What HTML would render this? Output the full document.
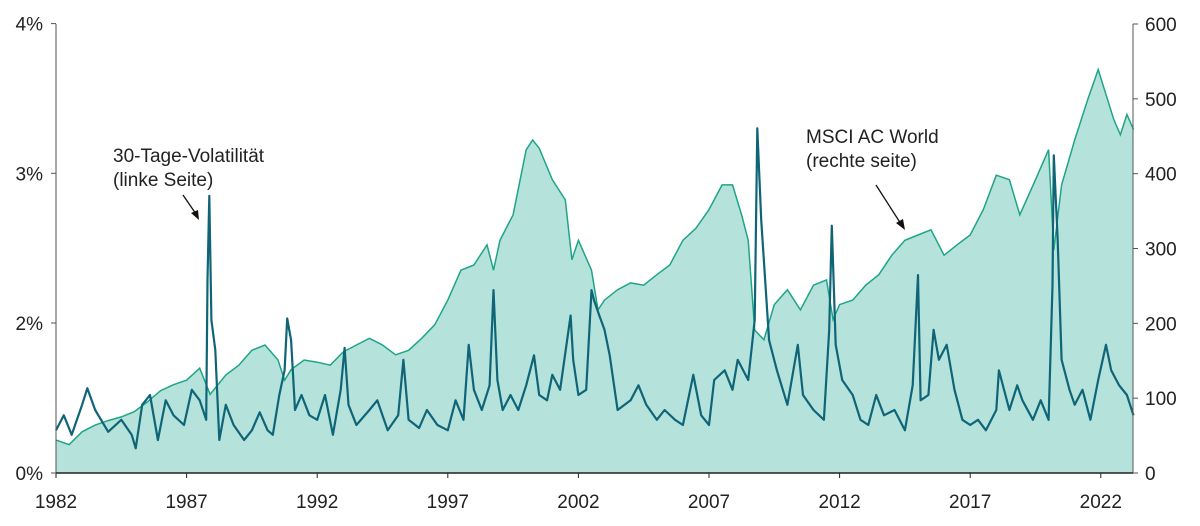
<!DOCTYPE html>
<html><head><meta charset="utf-8"><style>
body{margin:0;background:#fff;width:1200px;height:521px;overflow:hidden}
svg text{font-family:"Liberation Sans",sans-serif;fill:#222}
</style></head><body>
<svg id="chart" width="1200" height="521" viewBox="0 0 1200 521" xmlns="http://www.w3.org/2000/svg">
<g id="area"></g>
<g id="vol"></g>
<g id="axes"></g>
<g>
<text x="113" y="162" font-size="19">30-Tage-Volatilität</text>
<text x="113" y="186" font-size="19">(linke Seite)</text>
<line x1="183" y1="195" x2="196" y2="214" stroke="#111" stroke-width="1.3"/>
<polygon points="199,220 191,213 198,210" fill="#111"/>
</g>
<g>
<text x="806" y="143" font-size="19">MSCI AC World</text>
<text x="806" y="167" font-size="19">(rechte seite)</text>
<line x1="876" y1="185" x2="901" y2="224" stroke="#111" stroke-width="1.3"/>
<polygon points="905,230 896,223 903,219" fill="#111"/>
</g>
</svg>
<script>
const msciYears=[1982,1982.5,1983,1983.5,1984,1984.5,1985,1985.5,1986,1986.5,1987,1987.5,1987.9,1988.5,1989,1989.5,1990,1990.5,1990.75,1991,1991.5,1992,1992.5,1993,1993.5,1994,1994.5,1995,1995.5,1996,1996.5,1997,1997.5,1998,1998.5,1998.75,1999,1999.5,2000,2000.25,2000.5,2001,2001.5,2001.75,2002,2002.5,2002.75,2003,2003.5,2004,2004.5,2005,2005.5,2006,2006.5,2007,2007.5,2007.9,2008.25,2008.5,2008.75,2009.1,2009.5,2010,2010.5,2011,2011.5,2011.75,2012,2012.5,2013,2013.5,2014,2014.5,2015,2015.5,2016,2016.5,2017,2017.5,2018,2018.5,2018.9,2019.5,2020,2020.2,2020.5,2021,2021.5,2021.9,2022.5,2022.75,2023,2023.25];
const msciValues=[44,38,55,64,70,75,82,95,110,118,124,140,105,131,144,164,171,151,124,138,151,148,144,162,171,180,171,158,164,180,198,231,271,278,305,271,311,345,432,445,434,392,365,285,311,271,218,231,245,254,251,265,278,311,327,352,385,385,345,311,191,178,225,245,218,251,258,205,225,231,251,265,291,311,318,325,291,305,318,352,398,392,345,392,432,298,385,445,499,539,472,452,479,459];
const volYears=[1982,1982.3,1982.6,1983,1983.2,1983.5,1984,1984.5,1984.9,1985.05,1985.3,1985.6,1985.9,1986.2,1986.5,1986.9,1987.2,1987.5,1987.75,1987.8,1987.87,1987.95,1988.1,1988.25,1988.5,1988.8,1989.2,1989.5,1989.8,1990.1,1990.3,1990.55,1990.75,1990.85,1991,1991.15,1991.4,1991.7,1992,1992.3,1992.6,1992.9,1993.05,1993.2,1993.5,1994,1994.3,1994.7,1995.1,1995.3,1995.5,1995.9,1996.2,1996.6,1997,1997.3,1997.6,1997.8,1998,1998.3,1998.6,1998.75,1998.9,1999.1,1999.4,1999.7,2000,2000.3,2000.5,2000.8,2001,2001.3,2001.7,2001.8,2002,2002.3,2002.5,2002.6,2002.8,2003,2003.2,2003.5,2004,2004.3,2004.6,2005,2005.3,2005.7,2006,2006.4,2006.7,2007,2007.2,2007.6,2007.9,2008.1,2008.5,2008.75,2008.85,2009,2009.3,2009.6,2010,2010.4,2010.6,2011,2011.4,2011.6,2011.7,2011.85,2012.1,2012.5,2012.8,2013.1,2013.4,2013.7,2014.1,2014.5,2014.8,2015,2015.1,2015.4,2015.6,2015.8,2016.1,2016.4,2016.7,2017,2017.3,2017.6,2018,2018.1,2018.5,2018.8,2019,2019.4,2019.7,2020,2020.15,2020.2,2020.35,2020.5,2020.8,2021,2021.3,2021.6,2021.9,2022.2,2022.4,2022.7,2023,2023.25];
const volValues=[0.57,0.77,0.51,0.91,1.13,0.84,0.55,0.71,0.51,0.33,0.91,1.04,0.44,0.97,0.77,0.64,1.11,0.97,0.71,2.29,2.85,2.02,1.64,0.44,0.91,0.64,0.44,0.57,0.81,0.57,0.51,1.04,1.37,2.03,1.77,0.84,1.04,0.77,0.71,1.04,0.51,1.11,1.67,0.91,0.64,0.84,0.97,0.57,0.77,1.51,0.71,0.6,0.84,0.64,0.57,0.97,0.71,1.71,1.11,0.84,1.17,2.22,1.24,0.84,1.04,0.84,1.17,1.57,1.04,0.97,1.31,1.11,2.05,1.51,1.04,1.11,2.22,2.15,2.05,1.91,1.57,0.84,0.97,1.17,0.91,0.71,0.84,0.71,0.64,1.31,0.77,0.64,1.24,1.37,1.11,1.51,1.24,2.02,3.3,2.69,1.77,1.37,0.91,1.71,1.04,0.84,0.71,1.91,2.65,1.71,1.24,1.04,0.71,0.64,1.04,0.77,0.84,0.57,1.17,2.32,0.97,1.04,1.91,1.51,1.71,1.11,0.71,0.64,0.71,0.57,0.84,1.37,0.84,1.17,0.97,0.71,0.97,0.71,2.25,3.12,2.55,1.51,1.11,0.91,1.11,0.71,1.24,1.71,1.37,1.17,1.04,0.77];
const xTickYears=[1982,1987,1992,1997,2002,2007,2012,2017,2022];
const leftTicks=[0,2,3,4];
const rightTicks=[0,100,200,300,400,500,600];

const X0=56,X1=1133,Y0=473,YT=24;
const xS=y=>X0+(y-1982)*26.12;
const rS=v=>Y0-v/600*(Y0-YT);
// left axis as drawn: 0%..2% spans 150px, then 150px per 1%
const lS=p=>p<=2?Y0-p*75:Y0-150-(p-2)*149.7;
const NS="http://www.w3.org/2000/svg";
function mk(tag,attrs,parent){const e=document.createElementNS(NS,tag);for(const k in attrs)e.setAttribute(k,attrs[k]);parent.appendChild(e);return e;}

const area=document.getElementById('area');
let d=`M${xS(msciYears[0])},${Y0}`;
msciYears.forEach((y,i)=>d+=`L${xS(y).toFixed(1)},${rS(msciValues[i]).toFixed(1)}`);
d+=`L${xS(msciYears[msciYears.length-1]).toFixed(1)},${Y0}Z`;
const ap=mk('path',{d:d,fill:'#b5e3dc',stroke:'none'},area);


let ld='';
msciYears.forEach((y,i)=>ld+=(i?'L':'M')+xS(y).toFixed(1)+','+rS(msciValues[i]).toFixed(1));
const ml=mk('path',{d:ld,fill:'none',stroke:'#1ea487','stroke-width':1.5},area);



const vol=document.getElementById('vol');
let vd='';
volYears.forEach((y,i)=>vd+=(i?'L':'M')+xS(y).toFixed(1)+','+lS(volValues[i]).toFixed(1));
const vl=mk('path',{d:vd,fill:'none',stroke:'#0f6577','stroke-width':2.2,'stroke-linejoin':'round'},vol);



const ax=document.getElementById('axes');
mk('line',{x1:X0,y1:YT,x2:X0,y2:Y0,stroke:'#555','stroke-width':1},ax);
mk('line',{x1:X1,y1:YT,x2:X1,y2:Y0,stroke:'#555','stroke-width':1},ax);
mk('line',{x1:X0,y1:Y0,x2:X1,y2:Y0,stroke:'#222','stroke-width':1.5},ax);
xTickYears.forEach(y=>{
  mk('line',{x1:xS(y),y1:Y0,x2:xS(y),y2:Y0+5,stroke:'#222'},ax);
  const t=mk('text',{x:xS(y),y:Y0+35,'font-size':19,'text-anchor':'middle'},ax);
  t.textContent=y;
  
  
});
leftTicks.forEach(p=>{
  mk('line',{x1:X0-5,y1:lS(p),x2:X0,y2:lS(p),stroke:'#555'},ax);
  const t=mk('text',{x:X0-13,y:lS(p)+7,'font-size':19,'text-anchor':'end'},ax);
  t.textContent=p+'%';
  
  
});
rightTicks.forEach(v=>{
  mk('line',{x1:X1,y1:rS(v),x2:X1+5,y2:rS(v),stroke:'#555'},ax);
  const t=mk('text',{x:X1+12,y:rS(v)+7,'font-size':19},ax);
  t.textContent=v;
  
  
});
</script>
</body></html>
